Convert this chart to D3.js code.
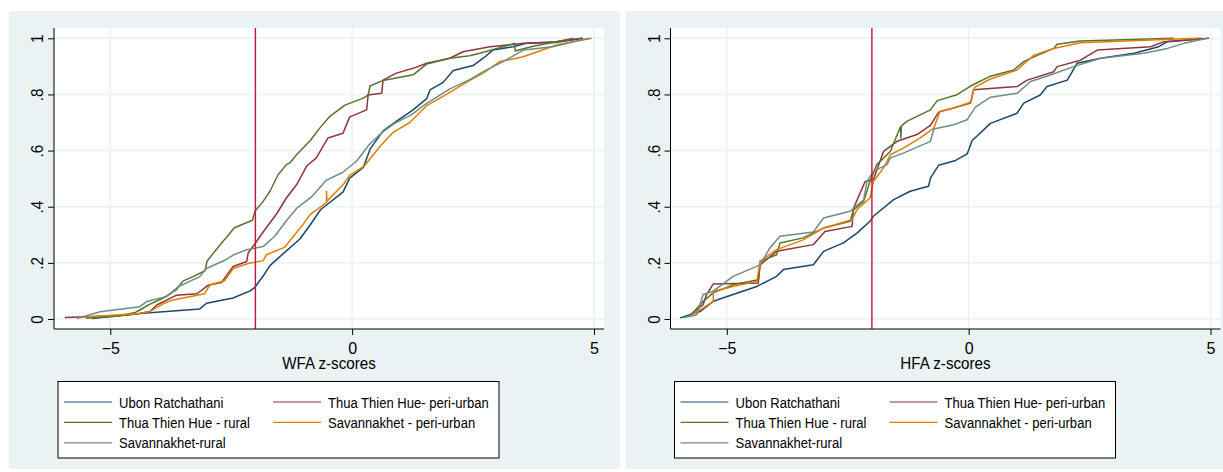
<!DOCTYPE html>
<html>
<head>
<meta charset="utf-8">
<script src="https://cdn.jsdelivr.net/npm/d3@7"></script>
<style>
  body { margin: 0; background: #fff; }
  svg { display: block; font-family: "Liberation Sans", Arial, sans-serif; }
</style>
</head>
<body>
<svg id="chart" width="1223" height="472"></svg>
<script>
// series names, legend order and colours
const seriesNames = ["Ubon Ratchathani", "Thua Thien Hue- peri-urban", "Thua Thien Hue - rural",
                     "Savannakhet - peri-urban", "Savannakhet-rural"];
const seriesColors = ["#1a476f", "#90353b", "#55752f", "#e37e00", "#6e8e84"];
const xTicks = [-5, 0, 5];
const yTicks = [0, 0.2, 0.4, 0.6, 0.8, 1];
const cutoff = -2;
const axisTitles = ["WFA z-scores", "HFA z-scores"];

// cumulative distributions, [z-score, cumulative share], WFA panel
const wfaUbon = [[-5.38,0.002],[-4.39,0.02],[-4.18,0.022],[-3.15,0.036],[-3.01,0.056],[-2.46,0.075],[-2.11,0.1],[-2.01,0.113],[-1.84,0.153],[-1.7,0.19],[-1.43,0.232],[-1.08,0.285],[-0.87,0.335],[-0.65,0.39],[-0.19,0.452],[-0.05,0.502],[0.23,0.54],[0.37,0.605],[0.64,0.67],[0.92,0.705],[1.26,0.745],[1.54,0.785],[1.61,0.816],[1.88,0.843],[2.09,0.885],[2.5,0.903],[2.71,0.929],[2.91,0.958],[3.33,0.97],[3.6,0.982],[4.22,0.988],[4.77,1.0]];
const wfaHueUrban = [[-5.94,0.005],[-4.8,0.012],[-4.39,0.02],[-4.18,0.027],[-4.04,0.05],[-3.63,0.085],[-3.21,0.09],[-2.98,0.12],[-2.7,0.13],[-2.46,0.187],[-2.18,0.205],[-2.15,0.235],[-2.01,0.268],[-1.84,0.31],[-1.56,0.375],[-1.36,0.431],[-1.15,0.478],[-0.94,0.545],[-0.74,0.574],[-0.5,0.645],[-0.19,0.662],[-0.05,0.72],[0.3,0.745],[0.33,0.798],[0.61,0.804],[0.64,0.851],[0.9,0.875],[1.26,0.893],[1.54,0.911],[2.02,0.929],[2.29,0.952],[2.85,0.97],[3.54,0.982],[4.22,0.985],[4.75,1.0]];
const wfaHueRural = [[-5.5,0.003],[-4.9,0.01],[-4.5,0.022],[-4.39,0.032],[-4.18,0.053],[-3.9,0.075],[-3.63,0.105],[-3.5,0.135],[-3.28,0.152],[-3.04,0.172],[-3.0,0.206],[-2.88,0.232],[-2.67,0.277],[-2.6,0.29],[-2.44,0.324],[-2.3,0.335],[-2.06,0.352],[-2.01,0.384],[-1.84,0.419],[-1.7,0.455],[-1.53,0.514],[-1.36,0.55],[-1.29,0.556],[-1.15,0.585],[-0.87,0.635],[-0.67,0.68],[-0.46,0.722],[-0.15,0.762],[0.23,0.787],[0.33,0.798],[0.37,0.83],[0.64,0.85],[1.26,0.87],[1.54,0.908],[2.02,0.929],[2.43,0.938],[2.64,0.947],[3.12,0.97],[3.36,0.982],[3.37,0.955],[3.74,0.972],[4.22,0.988],[4.57,1.0]];
const wfaSavUrban = [[-5.62,0.006],[-4.39,0.02],[-4.18,0.027],[-3.9,0.055],[-3.7,0.068],[-3.49,0.075],[-3.05,0.09],[-2.94,0.122],[-2.64,0.136],[-2.46,0.18],[-2.15,0.198],[-1.84,0.208],[-1.77,0.229],[-1.4,0.255],[-1.15,0.308],[-1.01,0.338],[-0.87,0.372],[-0.53,0.415],[-0.53,0.455],[-0.52,0.42],[-0.19,0.478],[-0.05,0.512],[0.25,0.545],[0.6,0.62],[0.85,0.665],[1.19,0.7],[1.54,0.76],[1.95,0.8],[2.43,0.85],[2.71,0.876],[3.05,0.917],[3.54,0.934],[4.22,0.976],[4.95,1.0]];
const wfaSavRural = [[-5.69,0.002],[-5.21,0.026],[-4.39,0.044],[-4.25,0.062],[-3.83,0.08],[-3.6,0.115],[-3.15,0.151],[-3.01,0.18],[-2.6,0.212],[-2.46,0.228],[-2.18,0.247],[-1.84,0.258],[-1.6,0.295],[-1.36,0.35],[-1.15,0.394],[-0.84,0.435],[-0.53,0.495],[-0.2,0.522],[0.09,0.562],[0.35,0.621],[0.62,0.665],[0.88,0.697],[1.22,0.727],[1.54,0.768],[2.02,0.82],[2.43,0.853],[2.71,0.881],[3.12,0.917],[3.54,0.958],[4.15,0.97],[4.57,0.988],[4.91,1.0]];

// HFA panel
const hfaUbon = [[-5.97,0.004],[-5.55,0.027],[-5.28,0.063],[-4.87,0.087],[-4.38,0.116],[-3.97,0.152],[-3.83,0.176],[-3.21,0.193],[-3.0,0.241],[-2.59,0.271],[-2.31,0.306],[-2.04,0.348],[-1.97,0.366],[-1.55,0.425],[-1.21,0.455],[-0.83,0.473],[-0.79,0.502],[-0.62,0.548],[-0.27,0.565],[-0.03,0.588],[0.07,0.635],[0.45,0.697],[1.0,0.733],[1.14,0.769],[1.48,0.798],[1.62,0.828],[2.04,0.851],[2.24,0.911],[2.73,0.929],[3.42,0.947],[3.93,0.97],[4.11,0.988],[4.66,0.996],[4.8,1.0]];
const hfaHueUrban = [[-5.76,0.015],[-5.49,0.051],[-5.42,0.087],[-5.28,0.125],[-4.35,0.128],[-4.31,0.193],[-3.97,0.241],[-3.21,0.265],[-2.97,0.312],[-2.41,0.33],[-2.38,0.395],[-2.14,0.49],[-1.97,0.496],[-1.76,0.597],[-1.48,0.633],[-1.07,0.657],[-0.79,0.69],[-0.62,0.737],[-0.31,0.752],[0.04,0.769],[0.1,0.817],[1.0,0.828],[1.21,0.851],[1.76,0.881],[1.83,0.899],[2.31,0.922],[2.66,0.958],[3.76,0.97],[4.04,0.988],[4.97,1.0]];
const hfaHueRural = [[-5.76,0.01],[-5.49,0.063],[-5.28,0.093],[-4.87,0.122],[-4.35,0.14],[-4.31,0.206],[-3.97,0.229],[-3.9,0.271],[-3.42,0.289],[-3.0,0.324],[-2.45,0.348],[-2.38,0.389],[-2.17,0.419],[-2.04,0.49],[-1.9,0.55],[-1.62,0.597],[-1.41,0.685],[-1.4,0.645],[-1.39,0.688],[-1.28,0.704],[-0.79,0.745],[-0.65,0.778],[-0.24,0.799],[0.04,0.83],[0.45,0.865],[0.93,0.887],[1.14,0.917],[1.35,0.934],[1.76,0.964],[1.83,0.979],[2.31,0.99],[4.24,1.0]];
const hfaSavUrban = [[-5.76,0.01],[-5.49,0.039],[-5.28,0.063],[-5.28,0.099],[-4.87,0.116],[-4.38,0.134],[-4.31,0.206],[-3.97,0.247],[-3.42,0.282],[-3.0,0.324],[-2.41,0.354],[-2.31,0.389],[-2.04,0.431],[-1.97,0.49],[-1.76,0.538],[-1.62,0.585],[-1.35,0.609],[-1.0,0.645],[-0.72,0.68],[-0.59,0.74],[-0.31,0.752],[0.04,0.772],[0.12,0.825],[0.45,0.855],[1.0,0.887],[1.35,0.94],[1.76,0.964],[2.31,0.984],[4.73,1.0]];
const hfaSavRural = [[-5.9,0.004],[-5.62,0.015],[-5.49,0.087],[-5.28,0.099],[-4.87,0.152],[-4.31,0.193],[-4.11,0.253],[-3.9,0.295],[-3.21,0.31],[-3.0,0.36],[-2.45,0.384],[-2.17,0.425],[-2.1,0.49],[-1.97,0.526],[-1.69,0.55],[-1.62,0.574],[-1.35,0.591],[-0.79,0.633],[-0.72,0.677],[-0.31,0.692],[-0.03,0.71],[0.14,0.755],[0.45,0.79],[1.0,0.804],[1.28,0.846],[1.69,0.869],[2.17,0.899],[2.73,0.929],[3.62,0.947],[4.11,0.964],[4.45,0.982],[4.94,1.0]];

const wfaSeries = [wfaUbon, wfaHueUrban, wfaHueRural, wfaSavUrban, wfaSavRural];
const hfaSeries = [hfaUbon, hfaHueUrban, hfaHueRural, hfaSavUrban, hfaSavRural];

const bgColor = "#eaf2f3";
const plotTop = 28, plotBottom = 329, plotLeft = 54, plotRight = 604;

const svg = d3.select("#chart");

function drawPanel(series, title, dx, panelWidth) {
  const g = svg.append("g").attr("transform", `translate(${dx},0)`);

  g.append("rect")
    .attr("x", 9).attr("y", 11)
    .attr("width", panelWidth).attr("height", 458)
    .attr("fill", bgColor);

  g.append("rect")
    .attr("x", plotLeft).attr("y", plotTop)
    .attr("width", plotRight - plotLeft).attr("height", plotBottom - plotTop)
    .attr("fill", "white");

  const x = d3.scaleLinear().domain([-5, 5]).range([110.3, 594]);
  const y = d3.scaleLinear().domain([0, 1]).range([319, 38.3]);

  // grid
  g.selectAll(".hgrid").data(yTicks).enter()
    .append("line")
    .attr("x1", plotLeft).attr("x2", plotRight)
    .attr("y1", d => y(d)).attr("y2", d => y(d))
    .attr("stroke", bgColor).attr("stroke-width", 1.5);
  g.selectAll(".vgrid").data(xTicks).enter()
    .append("line")
    .attr("x1", d => x(d)).attr("x2", d => x(d))
    .attr("y1", plotTop).attr("y2", plotBottom)
    .attr("stroke", bgColor).attr("stroke-width", 1.5);

  // cumulative curves
  const line = d3.line().x(d => x(d[0])).y(d => y(d[1]));
  g.selectAll(".cdf").data(series).enter()
    .append("path")
    .attr("d", line)
    .attr("fill", "none")
    .attr("stroke", (d, i) => seriesColors[i])
    .attr("stroke-width", 1.5)
    .attr("stroke-linejoin", "round");

  // -2 SD cut-off
  g.append("line")
    .attr("x1", x(cutoff)).attr("x2", x(cutoff))
    .attr("y1", plotTop).attr("y2", plotBottom)
    .attr("stroke", "#c4123c").attr("stroke-width", 1.4);

  // axes
  const yAxis = d3.axisLeft(y).tickValues(yTicks).tickSize(6)
    .tickFormat(d => d === 0 ? "0" : d === 1 ? "1" : d3.format(".1f")(d).replace("0.", "."));
  const ya = g.append("g").attr("transform", `translate(${plotLeft},0)`).call(yAxis);
  ya.select(".domain").remove();
  ya.selectAll("text")
    .attr("x", null).attr("dy", null)
    .attr("transform", "translate(-11,0) rotate(-90) scale(0.95,1)")
    .attr("text-anchor", "middle")
    .attr("fill", "black")
    .style("font-size", "16px");
  g.append("line")
    .attr("x1", plotLeft).attr("x2", plotLeft)
    .attr("y1", plotTop).attr("y2", plotBottom)
    .attr("stroke", "black");

  const xAxis = d3.axisBottom(x).tickValues(xTicks).tickSize(6).tickFormat(d3.format("d"));
  const xa = g.append("g").attr("transform", `translate(0,${plotBottom})`).call(xAxis);
  xa.select(".domain").remove();
  xa.selectAll("text")
    .attr("y", 25).attr("dy", null)
    .attr("fill", "black")
    .style("font-size", "16px");
  g.append("line")
    .attr("x1", plotLeft).attr("x2", plotRight)
    .attr("y1", plotBottom).attr("y2", plotBottom)
    .attr("stroke", "black");

  g.append("text")
    .attr("transform", `translate(${(plotLeft + plotRight) / 2},369) scale(0.95,1)`)
    .attr("text-anchor", "middle")
    .style("font-size", "16px")
    .text(title);

  // legend
  const lg = g.append("g");
  lg.append("rect")
    .attr("x", 58).attr("y", 381.5)
    .attr("width", 441).attr("height", 76.5)
    .attr("fill", "white").attr("stroke", "black").attr("stroke-width", 1);
  const items = lg.selectAll(".item").data(seriesNames).enter()
    .append("g")
    .attr("transform", (d, i) => `translate(${i % 2 === 0 ? 64 : 273},${402 + Math.floor(i / 2) * 20.4})`);
  items.append("line")
    .attr("x1", 0).attr("x2", 48)
    .attr("stroke", (d, i) => seriesColors[i]).attr("stroke-width", 1.2);
  items.append("text")
    .attr("transform", "translate(55,5.5) scale(0.9,1)")
    .style("font-size", "14.5px")
    .text(d => d);
}

drawPanel(wfaSeries, axisTitles[0], 0, 611);
drawPanel(hfaSeries, axisTitles[1], 616.5, 600);
</script>
</body>
</html>
